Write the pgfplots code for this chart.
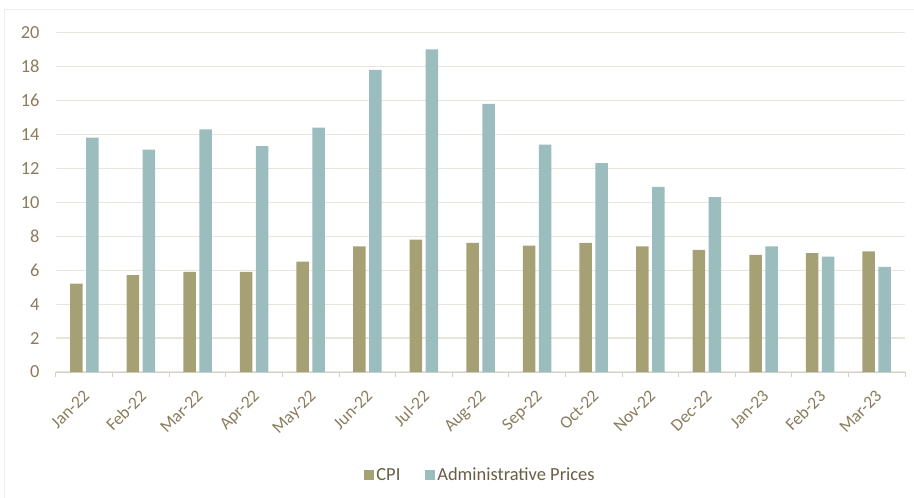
\documentclass[border=0pt]{standalone}
\usepackage{pgfplots}
\pgfplotsset{compat=1.18}
\usepackage{fontspec}
\setmainfont{Carlito}
\definecolor{cpi}{HTML}{A6A175}
\definecolor{adm}{HTML}{9BBDBD}
\definecolor{txt}{HTML}{8A7C5C}
\definecolor{grd}{HTML}{E8E5DC}
\definecolor{frm}{HTML}{EEEEEA}
\begin{document}
\begin{tikzpicture}[x=1bp,y=1bp]
\begin{axis}[
  scale only axis,
  width=849bp, height=339.5bp,
  ybar=3.5bp, bar width=12.5bp,
  xmin=-0.5, xmax=14.5,
  ymin=0, ymax=20,
  ytick={0,2,...,20},
  xtick={0,...,14},
  xticklabels={Jan-22,Feb-22,Mar-22,Apr-22,May-22,Jun-22,Jul-22,Aug-22,Sep-22,Oct-22,Nov-22,Dec-22,Jan-23,Feb-23,Mar-23},
  minor xtick={-0.5,0.5,...,14.5},
  major tick length=0pt,
  minor tick length=5bp,
  tick align=outside,
  minor tick style={grd!80!gray, line width=1bp},
  axis x line*=bottom,
  axis y line*=left,
  y axis line style={draw=none},
  x axis line style={grd!80!gray, line width=1bp, -},
  ymajorgrids,
  grid style={grd, line width=1.2bp},
  /pgf/number format/assume math mode=true,
  tick label style={font=\fontsize{18.5}{22}\selectfont, text=txt},
  yticklabel style={xshift=-13bp},
  xticklabel style={font=\fontsize{17.5}{21}\selectfont, xshift=-2bp, yshift=-12bp, rotate=45, anchor=north east},
  legend style={at={(0.5,-0.303)}, anchor=center, draw=none, legend columns=2,
    font=\fontsize{18.5}{22}\selectfont, text=txt!75!black,
    /tikz/every even column/.append style={column sep=23bp}},
  legend image code/.code={\fill[#1] (0bp,-5bp) rectangle (10bp,5bp);},
  clip=false,
]
\addplot[fill=cpi, draw=none] coordinates {(0,5.2) (1,5.7) (2,5.9) (3,5.9) (4,6.5) (5,7.4) (6,7.8) (7,7.6) (8,7.45) (9,7.6) (10,7.4) (11,7.2) (12,6.9) (13,7.0) (14,7.1)};
\addplot[fill=adm, draw=none] coordinates {(0,13.8) (1,13.1) (2,14.3) (3,13.3) (4,14.4) (5,17.8) (6,19.0) (7,15.8) (8,13.4) (9,12.3) (10,10.9) (11,10.3) (12,7.4) (13,6.8) (14,6.2)};
\legend{CPI,Administrative Prices}
\end{axis}
\pgfresetboundingbox
\path[use as bounding box] ([xshift=-56bp,yshift=-126bp]current axis.south west) rectangle ([xshift=9bp,yshift=32.5bp]current axis.north east);
\draw[frm, line width=1bp] ([xshift=-51bp,yshift=-126bp]current axis.south west) -- ([xshift=-51bp,yshift=22.5bp]current axis.south west |- current axis.north east) -- ([xshift=9bp,yshift=22.5bp]current axis.north east);
\end{tikzpicture}
\end{document}
